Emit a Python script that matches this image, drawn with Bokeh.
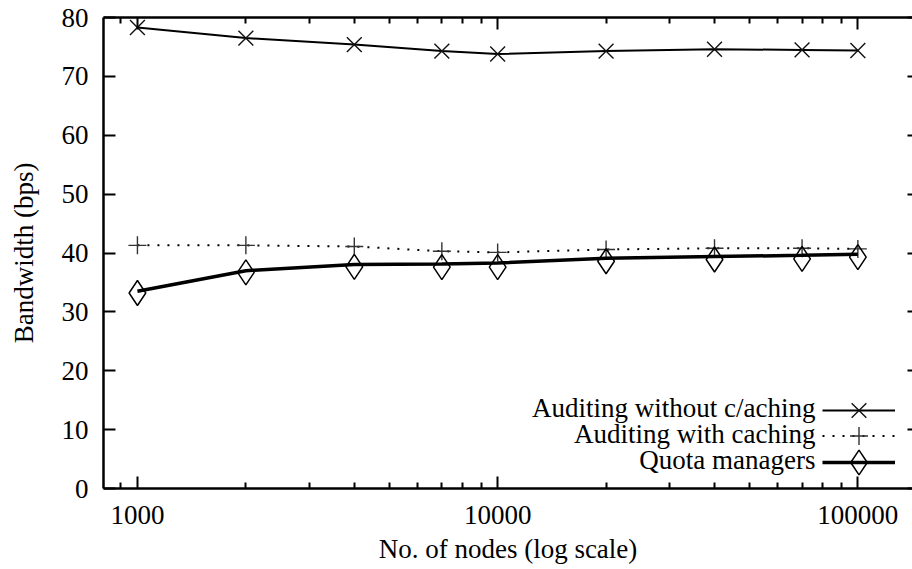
from bokeh.plotting import figure
from bokeh.models import (FixedTicker, LogAxis, LinearAxis, Range1d, Label, Legend,
                          LegendItem, CustomJSTickFormatter, BasicTickFormatter, ColumnDataSource)
from bokeh.core.properties import value
from bokeh.embed import file_html
from bokeh.resources import INLINE

# ---------------- data ----------------
nodes = [1000, 2000, 4000, 7000, 10000, 20000, 40000, 70000, 100000]
auditing_no_caching = [78.3, 76.5, 75.4, 74.3, 73.8, 74.3, 74.6, 74.5, 74.4]
auditing_caching = [41.3, 41.3, 41.1, 40.3, 40.1, 40.6, 40.8, 40.8, 40.7]
quota_line = [33.5, 37.0, 38.05, 38.15, 38.3, 39.1, 39.4, 39.6, 39.8]
quota_points = [33.2, 36.7, 37.65, 37.6, 37.6, 38.6, 38.9, 39.0, 39.3]

series_names = ["Auditing without c/aching", "Auditing with caching", "Quota managers"]
x_major_ticks = [1000, 10000, 100000]
y_ticks = [0, 10, 20, 30, 40, 50, 60, 70, 80]
x_label = "No. of nodes (log scale)"
y_label = "Bandwidth (bps)"

FONT = "Liberation Serif"
FS = "27px"

x_minor_ticks = [m * d for d in (100, 1000, 10000, 100000) for m in range(2, 10)]

p = figure(width=912, height=569, x_axis_type="log",
           x_range=Range1d(805, 141800), y_range=Range1d(0, 80),
           output_backend="svg", toolbar_location=None,
           min_border_left=103, min_border_right=0, min_border_top=17, min_border_bottom=81)
p.outline_line_color = None
p.grid.visible = False
p.background_fill_color = "white"
p.border_fill_color = "white"

empty_fmt = CustomJSTickFormatter(code="return ''")

# bottom axis
xa = p.xaxis[0]
xa.ticker = FixedTicker(ticks=x_major_ticks, minor_ticks=x_minor_ticks)
xa.formatter = BasicTickFormatter(use_scientific=False)
xa.major_tick_in = 12
xa.major_tick_out = 0
xa.minor_tick_in = 6
xa.minor_tick_out = 0
xa.axis_line_width = 2.5
xa.major_tick_line_width = 2
xa.minor_tick_line_width = 2
xa.major_label_standoff = 17
xa.major_label_text_font = FONT
xa.major_label_text_font_size = FS
xa.major_label_text_color = "black"
xa.axis_label = x_label
xa.axis_label_text_font = FONT
xa.axis_label_text_font_size = FS
xa.axis_label_text_font_style = "normal"
xa.axis_label_text_color = "black"
xa.axis_label_standoff = 7

# left axis
ya = p.yaxis[0]
ya.ticker = FixedTicker(ticks=y_ticks, minor_ticks=[])
ya.major_tick_in = 12
ya.major_tick_out = 0
ya.minor_tick_in = 0
ya.minor_tick_out = 0
ya.axis_line_width = 2.5
ya.major_tick_line_width = 2
ya.major_label_standoff = 15
ya.major_label_text_font = FONT
ya.major_label_text_font_size = FS
ya.major_label_text_color = "black"
ya.axis_label = y_label
ya.axis_label_text_font = FONT
ya.axis_label_text_font_size = FS
ya.axis_label_text_font_style = "normal"
ya.axis_label_text_color = "black"
ya.axis_label_standoff = 20

# top (mirror) axis
top = LogAxis(ticker=FixedTicker(ticks=x_major_ticks, minor_ticks=x_minor_ticks),
              formatter=empty_fmt, major_tick_in=12, major_tick_out=0,
              minor_tick_in=6, minor_tick_out=0, major_label_standoff=0,
              axis_line_width=2.5, major_tick_line_width=2, minor_tick_line_width=2)
p.add_layout(top, "above")

# right (mirror) axis - the border itself lies outside the picture
right = LinearAxis(ticker=FixedTicker(ticks=y_ticks, minor_ticks=[]),
                   formatter=empty_fmt, major_tick_in=5, major_tick_out=0,
                   minor_tick_in=0, minor_tick_out=0, major_label_standoff=0,
                   axis_line_color=None, major_tick_line_width=2)
p.add_layout(right, "right")

src = ColumnDataSource(dict(x=nodes, a=auditing_no_caching, b=auditing_caching,
                            ql=quota_line, qp=quota_points))

l1 = p.line("x", "a", source=src, line_color="black", line_width=2)
m1 = p.scatter("x", "a", source=src, marker="x", size=21, line_color="#111111", line_width=1.4)

l2 = p.line("x", "b", source=src, line_color="black", line_width=2, line_dash="2 8")
m2 = p.scatter("x", "b", source=src, marker="cross", size=18, line_color="#333333", line_width=1.4)

l3 = p.line("x", "ql", source=src, line_color="black", line_width=3.5)
m3 = p.scatter("x", "qp", source=src, marker="diamond", size=25, fill_color=None,
               line_color="black", line_width=1.5)

# key: text on the left, sample on the right (gnuplot style)
rows = [(l1, m1, 21, 78.3, 81.0), (l2, m2, 18, 52.3, 54.5), (l3, m3, 25, 26.6, 29.0)]
for name, (ln, mk, msize, cy, by) in zip(series_names, rows):
    gh = msize / 0.4
    leg = Legend(items=[LegendItem(label=value(""), renderers=[ln, mk])],
                 location=(719, cy - gh / 2), glyph_width=73, glyph_height=int(round(gh)),
                 label_width=0, label_standoff=0, label_height=0, padding=0, margin=0,
                 spacing=0, border_line_color=None, background_fill_alpha=0,
                 label_text_font_size="1px")
    p.add_layout(leg)
    p.add_layout(Label(x=712, y=by, x_units="screen", y_units="screen", text=name,
                       text_align="right", text_baseline="alphabetic",
                       text_font=FONT, text_font_size=FS, text_color="black"))

open("out.html", "w").write(file_html(p, INLINE))
